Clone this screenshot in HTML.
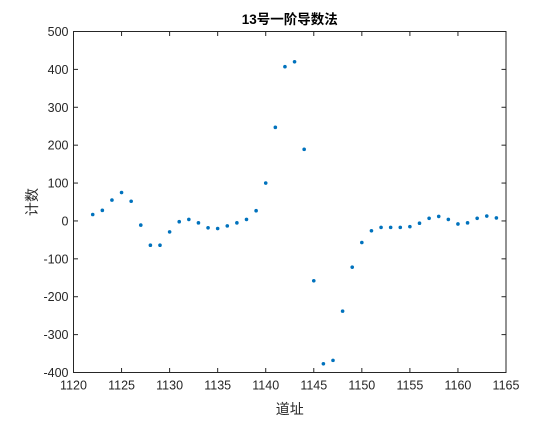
<!DOCTYPE html>
<html><head><meta charset="utf-8"><style>
html,body{margin:0;padding:0;background:#fff;}
svg text{font-family:"Liberation Sans","Noto Sans CJK SC",sans-serif;}
</style></head><body>
<svg id="chart" width="560" height="420" xmlns="http://www.w3.org/2000/svg">
<rect x="0" y="0" width="560" height="420" fill="#fff"/>
<g id="plot"></g>
</svg>
<script>
const xValues = [1122,1123,1124,1125,1126,1127,1128,1129,1130,1131,1132,1133,1134,1135,1136,1137,1138,1139,1140,1141,1142,1143,1144,1145,1146,1147,1148,1149,1150,1151,1152,1153,1154,1155,1156,1157,1158,1159,1160,1161,1162,1163,1164];
const yValues = [17,28,55,75,52,-11,-64,-64,-29,-2,4,-5,-18,-20,-13,-5,4,27,100,247,407,420,189,-158,-377,-368,-238,-122,-57,-26,-17,-17,-17,-15,-6,7,12,4,-8,-5,7,13,8];
const xTicks = [1120,1125,1130,1135,1140,1145,1150,1155,1160,1165];
const yTicks = [-400,-300,-200,-100,0,100,200,300,400,500];

const L=73.5,R=506,T=31.5,B=372.5;
const xMin=1120,xMax=1165,yMin=-400,yMax=500;
const sx=v=>L+(v-xMin)/(xMax-xMin)*(R-L);
const sy=v=>B-(v-yMin)/(yMax-yMin)*(B-T);
const NS="http://www.w3.org/2000/svg";
const svg=document.getElementById('chart');
function mk(tag,attrs,parent){const e=document.createElementNS(NS,tag);for(const k in attrs)e.setAttribute(k,attrs[k]);(parent||svg).appendChild(e);return e;}

const box=mk('rect',{x:L,y:T,width:R-L,height:B-T,fill:'#fff',stroke:'#262626','stroke-width':1});



xTicks.forEach(t=>{
  const x=sx(t);
  const l1=mk('line',{x1:x,x2:x,y1:B,y2:B-4.5,stroke:'#262626'});
  
  
  const l2=mk('line',{x1:x,x2:x,y1:T,y2:T+4.5,stroke:'#262626'});
  
  
  const tx=mk('text',{x:x,y:B+17,'text-anchor':'middle','font-size':12.5,fill:'#262626'});
  tx.textContent=t;
  
  
});
yTicks.forEach(t=>{
  const y=sy(t);
  const l1=mk('line',{x1:L,x2:L+4.5,y1:y,y2:y,stroke:'#262626'});
  
  
  const l2=mk('line',{x1:R,x2:R-4.5,y1:y,y2:y,stroke:'#262626'});
  
  
  const tx=mk('text',{x:L-5,y:y+4.5,'text-anchor':'end','font-size':12.5,fill:'#262626'});
  tx.textContent=t;
  
  
});

xValues.forEach((xv,i)=>{
  const c=mk('circle',{cx:sx(xv),cy:sy(yValues[i]),r:1.8,fill:'#0072bd'});
  
  
});

const title=mk('text',{x:(L+R)/2,y:24,'text-anchor':'middle','font-size':13.5,'font-weight':'bold',fill:'#000'});
title.textContent='13号一阶导数法';



const xl=mk('text',{x:(L+R)/2,y:414,'text-anchor':'middle','font-size':14,fill:'#262626'});
xl.textContent='道址';



const yl=mk('text',{x:0,y:0,'text-anchor':'middle','font-size':14,fill:'#262626',transform:'translate(37,'+((T+B)/2)+') rotate(-90)'});
yl.textContent='计数';


</script>
</body></html>
